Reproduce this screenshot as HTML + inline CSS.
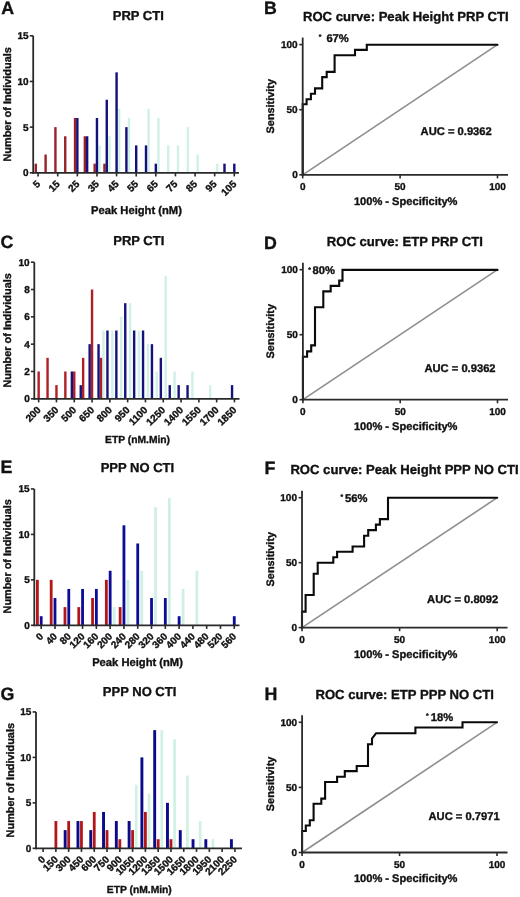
<!DOCTYPE html>
<html><head><meta charset="utf-8"><style>
html,body{margin:0;padding:0;background:#fff;}
body{width:520px;height:897px;overflow:hidden;}
svg{display:block;will-change:transform;}
text{font-family:"Liberation Sans", sans-serif;font-weight:bold;text-rendering:geometricPrecision;stroke:#111;stroke-width:0.35px;}
</style></head><body>
<svg width="520" height="897" viewBox="0 0 520 897">
<rect width="520" height="897" fill="#fff"/>
<rect x="98.36" y="145.40" width="2.40" height="27.40" fill="#d0f1e6"/>
<rect x="108.17" y="136.27" width="2.40" height="36.53" fill="#d0f1e6"/>
<rect x="117.98" y="108.87" width="2.40" height="63.93" fill="#d0f1e6"/>
<rect x="127.79" y="118.00" width="2.40" height="54.80" fill="#d0f1e6"/>
<rect x="147.41" y="108.87" width="2.40" height="63.93" fill="#d0f1e6"/>
<rect x="157.22" y="118.00" width="2.40" height="54.80" fill="#d0f1e6"/>
<rect x="167.03" y="145.40" width="2.40" height="27.40" fill="#d0f1e6"/>
<rect x="176.84" y="145.40" width="2.40" height="27.40" fill="#d0f1e6"/>
<rect x="186.65" y="127.14" width="2.40" height="45.66" fill="#d0f1e6"/>
<rect x="196.46" y="154.53" width="2.40" height="18.27" fill="#d0f1e6"/>
<rect x="216.08" y="163.67" width="2.40" height="9.13" fill="#d0f1e6"/>
<rect x="34.60" y="163.67" width="2.40" height="9.13" fill="#9a2229"/>
<rect x="44.41" y="154.53" width="2.40" height="18.27" fill="#9a2229"/>
<rect x="54.22" y="127.14" width="2.40" height="45.66" fill="#9a2229"/>
<rect x="64.03" y="136.27" width="2.40" height="36.53" fill="#9a2229"/>
<rect x="73.84" y="118.00" width="2.40" height="54.80" fill="#9a2229"/>
<rect x="83.65" y="136.27" width="2.40" height="36.53" fill="#9a2229"/>
<rect x="93.46" y="163.67" width="2.40" height="9.13" fill="#9a2229"/>
<rect x="103.27" y="163.67" width="2.40" height="9.13" fill="#9a2229"/>
<rect x="76.14" y="118.00" width="2.40" height="54.80" fill="#12107a"/>
<rect x="85.95" y="136.27" width="2.40" height="36.53" fill="#12107a"/>
<rect x="95.76" y="118.00" width="2.40" height="54.80" fill="#12107a"/>
<rect x="105.57" y="99.74" width="2.40" height="73.06" fill="#12107a"/>
<rect x="115.38" y="72.34" width="2.40" height="100.46" fill="#12107a"/>
<rect x="125.19" y="127.14" width="2.40" height="45.66" fill="#12107a"/>
<rect x="135.00" y="145.40" width="2.40" height="27.40" fill="#12107a"/>
<rect x="144.81" y="145.40" width="2.40" height="27.40" fill="#12107a"/>
<rect x="154.62" y="163.67" width="2.40" height="9.13" fill="#12107a"/>
<rect x="223.29" y="163.67" width="2.40" height="9.13" fill="#12107a"/>
<rect x="233.10" y="163.67" width="2.40" height="9.13" fill="#12107a"/>
<line x1="33.20" y1="35.81" x2="33.20" y2="173.70" stroke="#2a2a2a" stroke-width="1.8"/>
<line x1="29.80" y1="172.80" x2="33.20" y2="172.80" stroke="#2a2a2a" stroke-width="1.6"/>
<text x="28.60" y="176.20" font-size="10.0" text-anchor="end" fill="#111" >0</text>
<line x1="29.80" y1="127.14" x2="33.20" y2="127.14" stroke="#2a2a2a" stroke-width="1.6"/>
<text x="28.60" y="130.54" font-size="10.0" text-anchor="end" fill="#111" >5</text>
<line x1="29.80" y1="81.47" x2="33.20" y2="81.47" stroke="#2a2a2a" stroke-width="1.6"/>
<text x="28.60" y="84.87" font-size="10.0" text-anchor="end" fill="#111" >10</text>
<line x1="29.80" y1="35.81" x2="33.20" y2="35.81" stroke="#2a2a2a" stroke-width="1.6"/>
<text x="28.60" y="39.21" font-size="10.0" text-anchor="end" fill="#111" >15</text>
<line x1="32.30" y1="172.80" x2="239.00" y2="172.80" stroke="#2a2a2a" stroke-width="1.8"/>
<line x1="38.10" y1="172.80" x2="38.10" y2="176.40" stroke="#2a2a2a" stroke-width="1.6"/>
<text x="40.90" y="184.60" font-size="10.0" text-anchor="end" fill="#111" transform="rotate(-45 40.90 184.60)">5</text>
<line x1="57.72" y1="172.80" x2="57.72" y2="176.40" stroke="#2a2a2a" stroke-width="1.6"/>
<text x="60.52" y="184.60" font-size="10.0" text-anchor="end" fill="#111" transform="rotate(-45 60.52 184.60)">15</text>
<line x1="77.34" y1="172.80" x2="77.34" y2="176.40" stroke="#2a2a2a" stroke-width="1.6"/>
<text x="80.14" y="184.60" font-size="10.0" text-anchor="end" fill="#111" transform="rotate(-45 80.14 184.60)">25</text>
<line x1="96.96" y1="172.80" x2="96.96" y2="176.40" stroke="#2a2a2a" stroke-width="1.6"/>
<text x="99.76" y="184.60" font-size="10.0" text-anchor="end" fill="#111" transform="rotate(-45 99.76 184.60)">35</text>
<line x1="116.58" y1="172.80" x2="116.58" y2="176.40" stroke="#2a2a2a" stroke-width="1.6"/>
<text x="119.38" y="184.60" font-size="10.0" text-anchor="end" fill="#111" transform="rotate(-45 119.38 184.60)">45</text>
<line x1="136.20" y1="172.80" x2="136.20" y2="176.40" stroke="#2a2a2a" stroke-width="1.6"/>
<text x="139.00" y="184.60" font-size="10.0" text-anchor="end" fill="#111" transform="rotate(-45 139.00 184.60)">55</text>
<line x1="155.82" y1="172.80" x2="155.82" y2="176.40" stroke="#2a2a2a" stroke-width="1.6"/>
<text x="158.62" y="184.60" font-size="10.0" text-anchor="end" fill="#111" transform="rotate(-45 158.62 184.60)">65</text>
<line x1="175.44" y1="172.80" x2="175.44" y2="176.40" stroke="#2a2a2a" stroke-width="1.6"/>
<text x="178.24" y="184.60" font-size="10.0" text-anchor="end" fill="#111" transform="rotate(-45 178.24 184.60)">75</text>
<line x1="195.06" y1="172.80" x2="195.06" y2="176.40" stroke="#2a2a2a" stroke-width="1.6"/>
<text x="197.86" y="184.60" font-size="10.0" text-anchor="end" fill="#111" transform="rotate(-45 197.86 184.60)">85</text>
<line x1="214.68" y1="172.80" x2="214.68" y2="176.40" stroke="#2a2a2a" stroke-width="1.6"/>
<text x="217.48" y="184.60" font-size="10.0" text-anchor="end" fill="#111" transform="rotate(-45 217.48 184.60)">95</text>
<line x1="234.30" y1="172.80" x2="234.30" y2="176.40" stroke="#2a2a2a" stroke-width="1.6"/>
<text x="237.10" y="184.60" font-size="10.0" text-anchor="end" fill="#111" transform="rotate(-45 237.10 184.60)">105</text>
<text x="138.30" y="19.50" font-size="13" text-anchor="middle" fill="#111" >PRP CTI</text>
<text x="1.30" y="13.60" font-size="17.8" text-anchor="start" fill="#111" >A</text>
<text x="10.80" y="104.40" font-size="10.9" text-anchor="middle" fill="#111" transform="rotate(-90 10.80 104.40)">Number of Individuals</text>
<text x="136.50" y="213.50" font-size="11.2" text-anchor="middle" fill="#111" >Peak Height (nM)</text>
<rect x="102.20" y="330.50" width="2.40" height="68.30" fill="#d0f0e8"/>
<rect x="111.10" y="330.50" width="2.40" height="68.30" fill="#d0f0e8"/>
<rect x="120.00" y="316.84" width="2.40" height="81.96" fill="#d0f0e8"/>
<rect x="128.90" y="303.18" width="2.40" height="95.62" fill="#d0f0e8"/>
<rect x="137.80" y="330.50" width="2.40" height="68.30" fill="#d0f0e8"/>
<rect x="146.70" y="344.16" width="2.40" height="54.64" fill="#d0f0e8"/>
<rect x="155.60" y="371.48" width="2.40" height="27.32" fill="#d0f0e8"/>
<rect x="164.50" y="275.86" width="2.40" height="122.94" fill="#d0f0e8"/>
<rect x="173.40" y="371.48" width="2.40" height="27.32" fill="#d0f0e8"/>
<rect x="191.20" y="371.48" width="2.40" height="27.32" fill="#d0f0e8"/>
<rect x="209.00" y="385.14" width="2.40" height="13.66" fill="#d0f0e8"/>
<rect x="37.45" y="371.48" width="2.40" height="27.32" fill="#ae2026"/>
<rect x="46.35" y="357.82" width="2.40" height="40.98" fill="#ae2026"/>
<rect x="55.25" y="385.14" width="2.40" height="13.66" fill="#ae2026"/>
<rect x="64.15" y="371.48" width="2.40" height="27.32" fill="#ae2026"/>
<rect x="73.05" y="371.48" width="2.40" height="27.32" fill="#ae2026"/>
<rect x="81.95" y="357.82" width="2.40" height="40.98" fill="#ae2026"/>
<rect x="90.85" y="289.52" width="2.40" height="109.28" fill="#ae2026"/>
<rect x="99.75" y="357.82" width="2.40" height="40.98" fill="#ae2026"/>
<rect x="70.65" y="371.48" width="2.40" height="27.32" fill="#16127c"/>
<rect x="79.55" y="385.14" width="2.40" height="13.66" fill="#16127c"/>
<rect x="88.45" y="344.16" width="2.40" height="54.64" fill="#16127c"/>
<rect x="97.35" y="344.16" width="2.40" height="54.64" fill="#16127c"/>
<rect x="106.25" y="330.50" width="2.40" height="68.30" fill="#16127c"/>
<rect x="115.15" y="330.50" width="2.40" height="68.30" fill="#16127c"/>
<rect x="124.05" y="303.18" width="2.40" height="95.62" fill="#16127c"/>
<rect x="132.95" y="330.50" width="2.40" height="68.30" fill="#16127c"/>
<rect x="141.85" y="330.50" width="2.40" height="68.30" fill="#16127c"/>
<rect x="150.75" y="344.16" width="2.40" height="54.64" fill="#16127c"/>
<rect x="159.65" y="357.82" width="2.40" height="40.98" fill="#16127c"/>
<rect x="168.55" y="385.14" width="2.40" height="13.66" fill="#16127c"/>
<rect x="177.45" y="385.14" width="2.40" height="13.66" fill="#16127c"/>
<rect x="186.35" y="385.14" width="2.40" height="13.66" fill="#16127c"/>
<rect x="230.85" y="385.14" width="2.40" height="13.66" fill="#16127c"/>
<line x1="34.30" y1="262.20" x2="34.30" y2="399.70" stroke="#2a2a2a" stroke-width="1.8"/>
<line x1="30.90" y1="398.80" x2="34.30" y2="398.80" stroke="#2a2a2a" stroke-width="1.6"/>
<text x="29.70" y="402.20" font-size="10.0" text-anchor="end" fill="#111" >0</text>
<line x1="30.90" y1="371.48" x2="34.30" y2="371.48" stroke="#2a2a2a" stroke-width="1.6"/>
<text x="29.70" y="374.88" font-size="10.0" text-anchor="end" fill="#111" >2</text>
<line x1="30.90" y1="344.16" x2="34.30" y2="344.16" stroke="#2a2a2a" stroke-width="1.6"/>
<text x="29.70" y="347.56" font-size="10.0" text-anchor="end" fill="#111" >4</text>
<line x1="30.90" y1="316.84" x2="34.30" y2="316.84" stroke="#2a2a2a" stroke-width="1.6"/>
<text x="29.70" y="320.24" font-size="10.0" text-anchor="end" fill="#111" >6</text>
<line x1="30.90" y1="289.52" x2="34.30" y2="289.52" stroke="#2a2a2a" stroke-width="1.6"/>
<text x="29.70" y="292.92" font-size="10.0" text-anchor="end" fill="#111" >8</text>
<line x1="30.90" y1="262.20" x2="34.30" y2="262.20" stroke="#2a2a2a" stroke-width="1.6"/>
<text x="29.70" y="265.60" font-size="10.0" text-anchor="end" fill="#111" >10</text>
<line x1="33.40" y1="398.80" x2="239.50" y2="398.80" stroke="#2a2a2a" stroke-width="1.8"/>
<line x1="38.65" y1="398.80" x2="38.65" y2="402.40" stroke="#2a2a2a" stroke-width="1.6"/>
<text x="41.45" y="410.60" font-size="10.0" text-anchor="end" fill="#111" transform="rotate(-45 41.45 410.60)">200</text>
<line x1="56.45" y1="398.80" x2="56.45" y2="402.40" stroke="#2a2a2a" stroke-width="1.6"/>
<text x="59.25" y="410.60" font-size="10.0" text-anchor="end" fill="#111" transform="rotate(-45 59.25 410.60)">350</text>
<line x1="74.25" y1="398.80" x2="74.25" y2="402.40" stroke="#2a2a2a" stroke-width="1.6"/>
<text x="77.05" y="410.60" font-size="10.0" text-anchor="end" fill="#111" transform="rotate(-45 77.05 410.60)">500</text>
<line x1="92.05" y1="398.80" x2="92.05" y2="402.40" stroke="#2a2a2a" stroke-width="1.6"/>
<text x="94.85" y="410.60" font-size="10.0" text-anchor="end" fill="#111" transform="rotate(-45 94.85 410.60)">650</text>
<line x1="109.85" y1="398.80" x2="109.85" y2="402.40" stroke="#2a2a2a" stroke-width="1.6"/>
<text x="112.65" y="410.60" font-size="10.0" text-anchor="end" fill="#111" transform="rotate(-45 112.65 410.60)">800</text>
<line x1="127.65" y1="398.80" x2="127.65" y2="402.40" stroke="#2a2a2a" stroke-width="1.6"/>
<text x="130.45" y="410.60" font-size="10.0" text-anchor="end" fill="#111" transform="rotate(-45 130.45 410.60)">950</text>
<line x1="145.45" y1="398.80" x2="145.45" y2="402.40" stroke="#2a2a2a" stroke-width="1.6"/>
<text x="148.25" y="410.60" font-size="10.0" text-anchor="end" fill="#111" transform="rotate(-45 148.25 410.60)">1100</text>
<line x1="163.25" y1="398.80" x2="163.25" y2="402.40" stroke="#2a2a2a" stroke-width="1.6"/>
<text x="166.05" y="410.60" font-size="10.0" text-anchor="end" fill="#111" transform="rotate(-45 166.05 410.60)">1250</text>
<line x1="181.05" y1="398.80" x2="181.05" y2="402.40" stroke="#2a2a2a" stroke-width="1.6"/>
<text x="183.85" y="410.60" font-size="10.0" text-anchor="end" fill="#111" transform="rotate(-45 183.85 410.60)">1400</text>
<line x1="198.85" y1="398.80" x2="198.85" y2="402.40" stroke="#2a2a2a" stroke-width="1.6"/>
<text x="201.65" y="410.60" font-size="10.0" text-anchor="end" fill="#111" transform="rotate(-45 201.65 410.60)">1550</text>
<line x1="216.65" y1="398.80" x2="216.65" y2="402.40" stroke="#2a2a2a" stroke-width="1.6"/>
<text x="219.45" y="410.60" font-size="10.0" text-anchor="end" fill="#111" transform="rotate(-45 219.45 410.60)">1700</text>
<line x1="234.45" y1="398.80" x2="234.45" y2="402.40" stroke="#2a2a2a" stroke-width="1.6"/>
<text x="237.25" y="410.60" font-size="10.0" text-anchor="end" fill="#111" transform="rotate(-45 237.25 410.60)">1850</text>
<text x="138.80" y="245.20" font-size="13" text-anchor="middle" fill="#111" >PRP CTI</text>
<text x="0.60" y="247.90" font-size="17.8" text-anchor="start" fill="#111" >C</text>
<text x="11.50" y="330.40" font-size="10.9" text-anchor="middle" fill="#111" transform="rotate(-90 11.50 330.40)">Number of Individuals</text>
<text x="137.55" y="443.10" font-size="10.3" text-anchor="middle" fill="#111" >ETP (nM.Min)</text>
<rect x="112.75" y="607.12" width="2.80" height="18.18" fill="#d0f0e4"/>
<rect x="126.54" y="579.85" width="2.80" height="45.45" fill="#d0f0e4"/>
<rect x="140.33" y="570.76" width="2.80" height="54.54" fill="#d0f0e4"/>
<rect x="154.12" y="507.13" width="2.80" height="118.17" fill="#d0f0e4"/>
<rect x="167.91" y="498.04" width="2.80" height="127.26" fill="#d0f0e4"/>
<rect x="181.70" y="588.94" width="2.80" height="36.36" fill="#d0f0e4"/>
<rect x="195.49" y="570.76" width="2.80" height="54.54" fill="#d0f0e4"/>
<rect x="36.00" y="579.85" width="2.80" height="45.45" fill="#b31616"/>
<rect x="49.79" y="579.85" width="2.80" height="45.45" fill="#b31616"/>
<rect x="63.58" y="607.12" width="2.80" height="18.18" fill="#b31616"/>
<rect x="77.37" y="607.12" width="2.80" height="18.18" fill="#b31616"/>
<rect x="91.16" y="598.03" width="2.80" height="27.27" fill="#b31616"/>
<rect x="104.95" y="579.85" width="2.80" height="45.45" fill="#b31616"/>
<rect x="118.74" y="607.12" width="2.80" height="18.18" fill="#b31616"/>
<rect x="39.80" y="616.21" width="2.80" height="9.09" fill="#0c0c98"/>
<rect x="53.59" y="598.03" width="2.80" height="27.27" fill="#0c0c98"/>
<rect x="67.38" y="588.94" width="2.80" height="36.36" fill="#0c0c98"/>
<rect x="81.17" y="588.94" width="2.80" height="36.36" fill="#0c0c98"/>
<rect x="94.96" y="588.94" width="2.80" height="36.36" fill="#0c0c98"/>
<rect x="108.75" y="570.76" width="2.80" height="54.54" fill="#0c0c98"/>
<rect x="122.54" y="525.31" width="2.80" height="99.99" fill="#0c0c98"/>
<rect x="136.33" y="543.49" width="2.80" height="81.81" fill="#0c0c98"/>
<rect x="150.12" y="598.03" width="2.80" height="27.27" fill="#0c0c98"/>
<rect x="163.91" y="598.03" width="2.80" height="27.27" fill="#0c0c98"/>
<rect x="177.70" y="616.21" width="2.80" height="9.09" fill="#0c0c98"/>
<rect x="232.86" y="616.21" width="2.80" height="9.09" fill="#0c0c98"/>
<line x1="34.30" y1="488.95" x2="34.30" y2="626.20" stroke="#2a2a2a" stroke-width="1.8"/>
<line x1="30.90" y1="625.30" x2="34.30" y2="625.30" stroke="#2a2a2a" stroke-width="1.6"/>
<text x="29.70" y="628.70" font-size="10.0" text-anchor="end" fill="#111" >0</text>
<line x1="30.90" y1="579.85" x2="34.30" y2="579.85" stroke="#2a2a2a" stroke-width="1.6"/>
<text x="29.70" y="583.25" font-size="10.0" text-anchor="end" fill="#111" >5</text>
<line x1="30.90" y1="534.40" x2="34.30" y2="534.40" stroke="#2a2a2a" stroke-width="1.6"/>
<text x="29.70" y="537.80" font-size="10.0" text-anchor="end" fill="#111" >10</text>
<line x1="30.90" y1="488.95" x2="34.30" y2="488.95" stroke="#2a2a2a" stroke-width="1.6"/>
<text x="29.70" y="492.35" font-size="10.0" text-anchor="end" fill="#111" >15</text>
<line x1="33.40" y1="625.30" x2="239.50" y2="625.30" stroke="#2a2a2a" stroke-width="1.8"/>
<line x1="41.20" y1="625.30" x2="41.20" y2="628.90" stroke="#2a2a2a" stroke-width="1.6"/>
<text x="44.00" y="637.10" font-size="10.0" text-anchor="end" fill="#111" transform="rotate(-45 44.00 637.10)">0</text>
<line x1="54.99" y1="625.30" x2="54.99" y2="628.90" stroke="#2a2a2a" stroke-width="1.6"/>
<text x="57.79" y="637.10" font-size="10.0" text-anchor="end" fill="#111" transform="rotate(-45 57.79 637.10)">40</text>
<line x1="68.78" y1="625.30" x2="68.78" y2="628.90" stroke="#2a2a2a" stroke-width="1.6"/>
<text x="71.58" y="637.10" font-size="10.0" text-anchor="end" fill="#111" transform="rotate(-45 71.58 637.10)">80</text>
<line x1="82.57" y1="625.30" x2="82.57" y2="628.90" stroke="#2a2a2a" stroke-width="1.6"/>
<text x="85.37" y="637.10" font-size="10.0" text-anchor="end" fill="#111" transform="rotate(-45 85.37 637.10)">120</text>
<line x1="96.36" y1="625.30" x2="96.36" y2="628.90" stroke="#2a2a2a" stroke-width="1.6"/>
<text x="99.16" y="637.10" font-size="10.0" text-anchor="end" fill="#111" transform="rotate(-45 99.16 637.10)">160</text>
<line x1="110.15" y1="625.30" x2="110.15" y2="628.90" stroke="#2a2a2a" stroke-width="1.6"/>
<text x="112.95" y="637.10" font-size="10.0" text-anchor="end" fill="#111" transform="rotate(-45 112.95 637.10)">200</text>
<line x1="123.94" y1="625.30" x2="123.94" y2="628.90" stroke="#2a2a2a" stroke-width="1.6"/>
<text x="126.74" y="637.10" font-size="10.0" text-anchor="end" fill="#111" transform="rotate(-45 126.74 637.10)">240</text>
<line x1="137.73" y1="625.30" x2="137.73" y2="628.90" stroke="#2a2a2a" stroke-width="1.6"/>
<text x="140.53" y="637.10" font-size="10.0" text-anchor="end" fill="#111" transform="rotate(-45 140.53 637.10)">280</text>
<line x1="151.52" y1="625.30" x2="151.52" y2="628.90" stroke="#2a2a2a" stroke-width="1.6"/>
<text x="154.32" y="637.10" font-size="10.0" text-anchor="end" fill="#111" transform="rotate(-45 154.32 637.10)">320</text>
<line x1="165.31" y1="625.30" x2="165.31" y2="628.90" stroke="#2a2a2a" stroke-width="1.6"/>
<text x="168.11" y="637.10" font-size="10.0" text-anchor="end" fill="#111" transform="rotate(-45 168.11 637.10)">360</text>
<line x1="179.10" y1="625.30" x2="179.10" y2="628.90" stroke="#2a2a2a" stroke-width="1.6"/>
<text x="181.90" y="637.10" font-size="10.0" text-anchor="end" fill="#111" transform="rotate(-45 181.90 637.10)">400</text>
<line x1="192.89" y1="625.30" x2="192.89" y2="628.90" stroke="#2a2a2a" stroke-width="1.6"/>
<text x="195.69" y="637.10" font-size="10.0" text-anchor="end" fill="#111" transform="rotate(-45 195.69 637.10)">440</text>
<line x1="206.68" y1="625.30" x2="206.68" y2="628.90" stroke="#2a2a2a" stroke-width="1.6"/>
<text x="209.48" y="637.10" font-size="10.0" text-anchor="end" fill="#111" transform="rotate(-45 209.48 637.10)">480</text>
<line x1="220.47" y1="625.30" x2="220.47" y2="628.90" stroke="#2a2a2a" stroke-width="1.6"/>
<text x="223.27" y="637.10" font-size="10.0" text-anchor="end" fill="#111" transform="rotate(-45 223.27 637.10)">520</text>
<line x1="234.26" y1="625.30" x2="234.26" y2="628.90" stroke="#2a2a2a" stroke-width="1.6"/>
<text x="237.06" y="637.10" font-size="10.0" text-anchor="end" fill="#111" transform="rotate(-45 237.06 637.10)">560</text>
<text x="137.40" y="472.30" font-size="13" text-anchor="middle" fill="#111" >PPP NO CTI</text>
<text x="0.40" y="473.30" font-size="17.8" text-anchor="start" fill="#111" >E</text>
<text x="11.50" y="556.30" font-size="10.9" text-anchor="middle" fill="#111" transform="rotate(-90 11.50 556.30)">Number of Individuals</text>
<text x="137.55" y="665.80" font-size="11.2" text-anchor="middle" fill="#111" >Peak Height (nM)</text>
<rect x="134.86" y="784.67" width="2.70" height="63.63" fill="#d0f1e4"/>
<rect x="147.65" y="793.76" width="2.70" height="54.54" fill="#d0f1e4"/>
<rect x="160.43" y="730.13" width="2.70" height="118.17" fill="#d0f1e4"/>
<rect x="173.22" y="739.22" width="2.70" height="109.08" fill="#d0f1e4"/>
<rect x="186.01" y="775.58" width="2.70" height="72.72" fill="#d0f1e4"/>
<rect x="198.79" y="821.03" width="2.70" height="27.27" fill="#d0f1e4"/>
<rect x="211.58" y="839.21" width="2.70" height="9.09" fill="#d0f1e4"/>
<rect x="54.49" y="821.03" width="2.80" height="27.27" fill="#b31618"/>
<rect x="67.27" y="821.03" width="2.80" height="27.27" fill="#b31618"/>
<rect x="80.06" y="821.03" width="2.80" height="27.27" fill="#b31618"/>
<rect x="92.85" y="811.94" width="2.80" height="36.36" fill="#b31618"/>
<rect x="105.63" y="830.12" width="2.80" height="18.18" fill="#b31618"/>
<rect x="118.42" y="839.21" width="2.80" height="9.09" fill="#b31618"/>
<rect x="131.21" y="830.12" width="2.80" height="18.18" fill="#b31618"/>
<rect x="144.00" y="811.94" width="2.80" height="36.36" fill="#b31618"/>
<rect x="156.78" y="839.21" width="2.80" height="9.09" fill="#b31618"/>
<rect x="169.57" y="839.21" width="2.80" height="9.09" fill="#b31618"/>
<rect x="63.72" y="830.12" width="2.90" height="18.18" fill="#0a0a8a"/>
<rect x="76.51" y="821.03" width="2.90" height="27.27" fill="#0a0a8a"/>
<rect x="89.30" y="830.12" width="2.90" height="18.18" fill="#0a0a8a"/>
<rect x="102.08" y="811.94" width="2.90" height="36.36" fill="#0a0a8a"/>
<rect x="114.87" y="821.03" width="2.90" height="27.27" fill="#0a0a8a"/>
<rect x="127.66" y="821.03" width="2.90" height="27.27" fill="#0a0a8a"/>
<rect x="140.45" y="757.40" width="2.90" height="90.90" fill="#0a0a8a"/>
<rect x="153.23" y="730.13" width="2.90" height="118.17" fill="#0a0a8a"/>
<rect x="166.02" y="802.85" width="2.90" height="45.45" fill="#0a0a8a"/>
<rect x="178.81" y="830.12" width="2.90" height="18.18" fill="#0a0a8a"/>
<rect x="191.59" y="839.21" width="2.90" height="9.09" fill="#0a0a8a"/>
<rect x="204.38" y="839.21" width="2.90" height="9.09" fill="#0a0a8a"/>
<rect x="229.96" y="839.21" width="2.90" height="9.09" fill="#0a0a8a"/>
<line x1="36.00" y1="711.95" x2="36.00" y2="849.20" stroke="#2a2a2a" stroke-width="1.8"/>
<line x1="32.60" y1="848.30" x2="36.00" y2="848.30" stroke="#2a2a2a" stroke-width="1.6"/>
<text x="31.40" y="851.70" font-size="10.0" text-anchor="end" fill="#111" >0</text>
<line x1="32.60" y1="802.85" x2="36.00" y2="802.85" stroke="#2a2a2a" stroke-width="1.6"/>
<text x="31.40" y="806.25" font-size="10.0" text-anchor="end" fill="#111" >5</text>
<line x1="32.60" y1="757.40" x2="36.00" y2="757.40" stroke="#2a2a2a" stroke-width="1.6"/>
<text x="31.40" y="760.80" font-size="10.0" text-anchor="end" fill="#111" >10</text>
<line x1="32.60" y1="711.95" x2="36.00" y2="711.95" stroke="#2a2a2a" stroke-width="1.6"/>
<text x="31.40" y="715.35" font-size="10.0" text-anchor="end" fill="#111" >15</text>
<line x1="35.10" y1="848.30" x2="242.00" y2="848.30" stroke="#2a2a2a" stroke-width="1.8"/>
<line x1="43.10" y1="848.30" x2="43.10" y2="851.90" stroke="#2a2a2a" stroke-width="1.6"/>
<text x="45.90" y="860.10" font-size="10.0" text-anchor="end" fill="#111" transform="rotate(-45 45.90 860.10)">0</text>
<line x1="55.89" y1="848.30" x2="55.89" y2="851.90" stroke="#2a2a2a" stroke-width="1.6"/>
<text x="58.69" y="860.10" font-size="10.0" text-anchor="end" fill="#111" transform="rotate(-45 58.69 860.10)">150</text>
<line x1="68.67" y1="848.30" x2="68.67" y2="851.90" stroke="#2a2a2a" stroke-width="1.6"/>
<text x="71.47" y="860.10" font-size="10.0" text-anchor="end" fill="#111" transform="rotate(-45 71.47 860.10)">300</text>
<line x1="81.46" y1="848.30" x2="81.46" y2="851.90" stroke="#2a2a2a" stroke-width="1.6"/>
<text x="84.26" y="860.10" font-size="10.0" text-anchor="end" fill="#111" transform="rotate(-45 84.26 860.10)">450</text>
<line x1="94.25" y1="848.30" x2="94.25" y2="851.90" stroke="#2a2a2a" stroke-width="1.6"/>
<text x="97.05" y="860.10" font-size="10.0" text-anchor="end" fill="#111" transform="rotate(-45 97.05 860.10)">600</text>
<line x1="107.03" y1="848.30" x2="107.03" y2="851.90" stroke="#2a2a2a" stroke-width="1.6"/>
<text x="109.83" y="860.10" font-size="10.0" text-anchor="end" fill="#111" transform="rotate(-45 109.83 860.10)">750</text>
<line x1="119.82" y1="848.30" x2="119.82" y2="851.90" stroke="#2a2a2a" stroke-width="1.6"/>
<text x="122.62" y="860.10" font-size="10.0" text-anchor="end" fill="#111" transform="rotate(-45 122.62 860.10)">900</text>
<line x1="132.61" y1="848.30" x2="132.61" y2="851.90" stroke="#2a2a2a" stroke-width="1.6"/>
<text x="135.41" y="860.10" font-size="10.0" text-anchor="end" fill="#111" transform="rotate(-45 135.41 860.10)">1050</text>
<line x1="145.40" y1="848.30" x2="145.40" y2="851.90" stroke="#2a2a2a" stroke-width="1.6"/>
<text x="148.20" y="860.10" font-size="10.0" text-anchor="end" fill="#111" transform="rotate(-45 148.20 860.10)">1200</text>
<line x1="158.18" y1="848.30" x2="158.18" y2="851.90" stroke="#2a2a2a" stroke-width="1.6"/>
<text x="160.98" y="860.10" font-size="10.0" text-anchor="end" fill="#111" transform="rotate(-45 160.98 860.10)">1350</text>
<line x1="170.97" y1="848.30" x2="170.97" y2="851.90" stroke="#2a2a2a" stroke-width="1.6"/>
<text x="173.77" y="860.10" font-size="10.0" text-anchor="end" fill="#111" transform="rotate(-45 173.77 860.10)">1500</text>
<line x1="183.76" y1="848.30" x2="183.76" y2="851.90" stroke="#2a2a2a" stroke-width="1.6"/>
<text x="186.56" y="860.10" font-size="10.0" text-anchor="end" fill="#111" transform="rotate(-45 186.56 860.10)">1650</text>
<line x1="196.54" y1="848.30" x2="196.54" y2="851.90" stroke="#2a2a2a" stroke-width="1.6"/>
<text x="199.34" y="860.10" font-size="10.0" text-anchor="end" fill="#111" transform="rotate(-45 199.34 860.10)">1800</text>
<line x1="209.33" y1="848.30" x2="209.33" y2="851.90" stroke="#2a2a2a" stroke-width="1.6"/>
<text x="212.13" y="860.10" font-size="10.0" text-anchor="end" fill="#111" transform="rotate(-45 212.13 860.10)">1950</text>
<line x1="222.12" y1="848.30" x2="222.12" y2="851.90" stroke="#2a2a2a" stroke-width="1.6"/>
<text x="224.92" y="860.10" font-size="10.0" text-anchor="end" fill="#111" transform="rotate(-45 224.92 860.10)">2100</text>
<line x1="234.91" y1="848.30" x2="234.91" y2="851.90" stroke="#2a2a2a" stroke-width="1.6"/>
<text x="237.71" y="860.10" font-size="10.0" text-anchor="end" fill="#111" transform="rotate(-45 237.71 860.10)">2250</text>
<text x="139.60" y="695.80" font-size="13" text-anchor="middle" fill="#111" >PPP NO CTI</text>
<text x="0.60" y="699.70" font-size="17.8" text-anchor="start" fill="#111" >G</text>
<text x="13.80" y="780.20" font-size="10.9" text-anchor="middle" fill="#111" transform="rotate(-90 13.80 780.20)">Number of Individuals</text>
<text x="139.30" y="892.70" font-size="10.3" text-anchor="middle" fill="#111" >ETP (nM.Min)</text>
<line x1="302.70" y1="174.80" x2="497.50" y2="44.60" stroke="#8e8e8e" stroke-width="1.6"/>
<path d="M302.70,174.80 L302.70,104.20 L306.60,104.20 L306.60,99.30 L310.90,99.30 L310.90,93.70 L315.00,93.70 L315.00,88.40 L322.20,88.40 L322.20,77.10 L326.70,77.10 L326.70,71.90 L334.60,71.90 L334.60,55.20 L355.00,55.20 L355.00,49.90 L366.80,49.90 L366.80,44.80 L497.50,44.80" fill="none" stroke="#0a0a0a" stroke-width="2.1" stroke-linejoin="miter" stroke-linecap="round"/>
<line x1="302.70" y1="37.60" x2="302.70" y2="175.70" stroke="#2a2a2a" stroke-width="1.8"/>
<line x1="299.30" y1="174.80" x2="302.70" y2="174.80" stroke="#2a2a2a" stroke-width="1.6"/>
<text x="297.70" y="178.20" font-size="10.0" text-anchor="end" fill="#111" >0</text>
<line x1="299.30" y1="109.70" x2="302.70" y2="109.70" stroke="#2a2a2a" stroke-width="1.6"/>
<text x="297.70" y="113.10" font-size="10.0" text-anchor="end" fill="#111" >50</text>
<line x1="299.30" y1="44.60" x2="302.70" y2="44.60" stroke="#2a2a2a" stroke-width="1.6"/>
<text x="297.70" y="48.00" font-size="10.0" text-anchor="end" fill="#111" >100</text>
<line x1="301.80" y1="174.80" x2="508.00" y2="174.80" stroke="#2a2a2a" stroke-width="1.8"/>
<line x1="302.70" y1="174.80" x2="302.70" y2="178.40" stroke="#2a2a2a" stroke-width="1.6"/>
<text x="302.70" y="190.40" font-size="10.0" text-anchor="middle" fill="#111" >0</text>
<line x1="400.10" y1="174.80" x2="400.10" y2="178.40" stroke="#2a2a2a" stroke-width="1.6"/>
<text x="400.10" y="190.40" font-size="10.0" text-anchor="middle" fill="#111" >50</text>
<line x1="497.50" y1="174.80" x2="497.50" y2="178.40" stroke="#2a2a2a" stroke-width="1.6"/>
<text x="497.50" y="190.40" font-size="10.0" text-anchor="middle" fill="#111" >100</text>
<text x="405.80" y="21.40" font-size="13.1" text-anchor="middle" fill="#111" >ROC curve: Peak Height PRP CTI</text>
<text x="264.00" y="13.60" font-size="17.8" text-anchor="start" fill="#111" >B</text>
<text x="273.90" y="106.20" font-size="10.9" text-anchor="middle" fill="#111" transform="rotate(-90 273.90 106.20)">Sensitivity</text>
<text x="405.70" y="204.70" font-size="11.1" text-anchor="middle" fill="#111" >100% - Specificity%</text>
<text x="456.20" y="134.60" font-size="11.2" text-anchor="middle" fill="#111" >AUC = 0.9362</text>
<text x="320.10" y="39.40" font-size="6.8" text-anchor="middle" fill="#111" >*</text>
<text x="326.40" y="42.00" font-size="11.2" text-anchor="start" fill="#111" >67%</text>
<line x1="302.90" y1="399.70" x2="497.50" y2="269.70" stroke="#8e8e8e" stroke-width="1.6"/>
<path d="M302.90,399.70 L302.90,356.80 L307.10,356.80 L307.10,351.40 L311.20,351.40 L311.20,345.40 L315.00,345.40 L315.00,307.20 L323.30,307.20 L323.30,291.40 L330.70,291.40 L330.70,285.90 L339.20,285.90 L339.20,280.60 L342.50,280.60 L342.50,269.90 L497.50,269.90" fill="none" stroke="#0a0a0a" stroke-width="2.1" stroke-linejoin="miter" stroke-linecap="round"/>
<line x1="302.90" y1="262.70" x2="302.90" y2="400.60" stroke="#2a2a2a" stroke-width="1.8"/>
<line x1="299.50" y1="399.70" x2="302.90" y2="399.70" stroke="#2a2a2a" stroke-width="1.6"/>
<text x="297.90" y="403.10" font-size="10.0" text-anchor="end" fill="#111" >0</text>
<line x1="299.50" y1="334.70" x2="302.90" y2="334.70" stroke="#2a2a2a" stroke-width="1.6"/>
<text x="297.90" y="338.10" font-size="10.0" text-anchor="end" fill="#111" >50</text>
<line x1="299.50" y1="269.70" x2="302.90" y2="269.70" stroke="#2a2a2a" stroke-width="1.6"/>
<text x="297.90" y="273.10" font-size="10.0" text-anchor="end" fill="#111" >100</text>
<line x1="302.00" y1="399.70" x2="508.00" y2="399.70" stroke="#2a2a2a" stroke-width="1.8"/>
<line x1="302.90" y1="399.70" x2="302.90" y2="403.30" stroke="#2a2a2a" stroke-width="1.6"/>
<text x="302.90" y="415.30" font-size="10.0" text-anchor="middle" fill="#111" >0</text>
<line x1="400.20" y1="399.70" x2="400.20" y2="403.30" stroke="#2a2a2a" stroke-width="1.6"/>
<text x="400.20" y="415.30" font-size="10.0" text-anchor="middle" fill="#111" >50</text>
<line x1="497.50" y1="399.70" x2="497.50" y2="403.30" stroke="#2a2a2a" stroke-width="1.6"/>
<text x="497.50" y="415.30" font-size="10.0" text-anchor="middle" fill="#111" >100</text>
<text x="404.80" y="246.30" font-size="13.1" text-anchor="middle" fill="#111" >ROC curve: ETP PRP CTI</text>
<text x="264.00" y="248.80" font-size="17.8" text-anchor="start" fill="#111" >D</text>
<text x="273.90" y="331.20" font-size="10.9" text-anchor="middle" fill="#111" transform="rotate(-90 273.90 331.20)">Sensitivity</text>
<text x="405.70" y="429.60" font-size="11.1" text-anchor="middle" fill="#111" >100% - Specificity%</text>
<text x="460.00" y="372.30" font-size="11.2" text-anchor="middle" fill="#111" >AUC = 0.9362</text>
<text x="309.60" y="271.60" font-size="6.8" text-anchor="middle" fill="#111" >*</text>
<text x="312.60" y="274.30" font-size="11.2" text-anchor="start" fill="#111" >80%</text>
<line x1="302.00" y1="627.60" x2="497.20" y2="497.70" stroke="#8e8e8e" stroke-width="1.6"/>
<path d="M302.00,627.60 L302.00,611.60 L305.60,611.60 L305.60,595.00 L313.70,595.00 L313.70,573.70 L317.70,573.70 L317.70,562.70 L333.30,562.70 L333.30,557.30 L337.10,557.30 L337.10,551.70 L352.60,551.70 L352.60,546.50 L364.10,546.50 L364.10,535.80 L368.20,535.80 L368.20,530.10 L375.90,530.10 L375.90,524.60 L379.90,524.60 L379.90,519.10 L388.00,519.10 L388.00,497.70 L497.20,497.70" fill="none" stroke="#0a0a0a" stroke-width="2.1" stroke-linejoin="miter" stroke-linecap="round"/>
<line x1="302.00" y1="490.70" x2="302.00" y2="628.50" stroke="#2a2a2a" stroke-width="1.8"/>
<line x1="298.60" y1="627.60" x2="302.00" y2="627.60" stroke="#2a2a2a" stroke-width="1.6"/>
<text x="297.00" y="631.00" font-size="10.0" text-anchor="end" fill="#111" >0</text>
<line x1="298.60" y1="562.65" x2="302.00" y2="562.65" stroke="#2a2a2a" stroke-width="1.6"/>
<text x="297.00" y="566.05" font-size="10.0" text-anchor="end" fill="#111" >50</text>
<line x1="298.60" y1="497.70" x2="302.00" y2="497.70" stroke="#2a2a2a" stroke-width="1.6"/>
<text x="297.00" y="501.10" font-size="10.0" text-anchor="end" fill="#111" >100</text>
<line x1="301.10" y1="627.60" x2="507.50" y2="627.60" stroke="#2a2a2a" stroke-width="1.8"/>
<line x1="302.00" y1="627.60" x2="302.00" y2="631.20" stroke="#2a2a2a" stroke-width="1.6"/>
<text x="302.00" y="643.20" font-size="10.0" text-anchor="middle" fill="#111" >0</text>
<line x1="399.60" y1="627.60" x2="399.60" y2="631.20" stroke="#2a2a2a" stroke-width="1.6"/>
<text x="399.60" y="643.20" font-size="10.0" text-anchor="middle" fill="#111" >50</text>
<line x1="497.20" y1="627.60" x2="497.20" y2="631.20" stroke="#2a2a2a" stroke-width="1.6"/>
<text x="497.20" y="643.20" font-size="10.0" text-anchor="middle" fill="#111" >100</text>
<text x="404.50" y="474.30" font-size="13.1" text-anchor="middle" fill="#111" >ROC curve: Peak Height PPP NO CTI</text>
<text x="264.50" y="474.30" font-size="17.8" text-anchor="start" fill="#111" >F</text>
<text x="273.90" y="559.15" font-size="10.9" text-anchor="middle" fill="#111" transform="rotate(-90 273.90 559.15)">Sensitivity</text>
<text x="405.70" y="657.50" font-size="11.1" text-anchor="middle" fill="#111" >100% - Specificity%</text>
<text x="462.70" y="602.70" font-size="11.2" text-anchor="middle" fill="#111" >AUC = 0.8092</text>
<text x="341.90" y="499.20" font-size="6.8" text-anchor="middle" fill="#111" >*</text>
<text x="345.00" y="502.00" font-size="11.2" text-anchor="start" fill="#111" >56%</text>
<line x1="302.10" y1="852.50" x2="497.00" y2="722.30" stroke="#8e8e8e" stroke-width="1.6"/>
<path d="M302.10,852.50 L302.10,831.00 L305.80,831.00 L305.80,825.50 L309.80,825.50 L309.80,820.30 L313.60,820.30 L313.60,803.80 L321.30,803.80 L321.30,798.60 L325.10,798.60 L325.10,782.00 L337.10,782.00 L337.10,776.70 L344.80,776.70 L344.80,771.10 L356.70,771.10 L356.70,766.00 L368.00,766.00 L368.00,744.20 L372.00,744.20 L372.00,738.60 L376.10,733.20 L415.40,733.20 L415.40,727.50 L462.50,727.50 L462.50,722.30 L497.00,722.30" fill="none" stroke="#0a0a0a" stroke-width="2.1" stroke-linejoin="miter" stroke-linecap="round"/>
<line x1="302.10" y1="715.30" x2="302.10" y2="853.40" stroke="#2a2a2a" stroke-width="1.8"/>
<line x1="298.70" y1="852.50" x2="302.10" y2="852.50" stroke="#2a2a2a" stroke-width="1.6"/>
<text x="297.10" y="855.90" font-size="10.0" text-anchor="end" fill="#111" >0</text>
<line x1="298.70" y1="787.40" x2="302.10" y2="787.40" stroke="#2a2a2a" stroke-width="1.6"/>
<text x="297.10" y="790.80" font-size="10.0" text-anchor="end" fill="#111" >50</text>
<line x1="298.70" y1="722.30" x2="302.10" y2="722.30" stroke="#2a2a2a" stroke-width="1.6"/>
<text x="297.10" y="725.70" font-size="10.0" text-anchor="end" fill="#111" >100</text>
<line x1="301.20" y1="852.50" x2="507.50" y2="852.50" stroke="#2a2a2a" stroke-width="1.8"/>
<line x1="302.10" y1="852.50" x2="302.10" y2="856.10" stroke="#2a2a2a" stroke-width="1.6"/>
<text x="302.10" y="868.10" font-size="10.0" text-anchor="middle" fill="#111" >0</text>
<line x1="399.55" y1="852.50" x2="399.55" y2="856.10" stroke="#2a2a2a" stroke-width="1.6"/>
<text x="399.55" y="868.10" font-size="10.0" text-anchor="middle" fill="#111" >50</text>
<line x1="497.00" y1="852.50" x2="497.00" y2="856.10" stroke="#2a2a2a" stroke-width="1.6"/>
<text x="497.00" y="868.10" font-size="10.0" text-anchor="middle" fill="#111" >100</text>
<text x="404.70" y="699.40" font-size="13.1" text-anchor="middle" fill="#111" >ROC curve: ETP PPP NO CTI</text>
<text x="264.50" y="700.20" font-size="17.8" text-anchor="start" fill="#111" >H</text>
<text x="273.90" y="783.90" font-size="10.9" text-anchor="middle" fill="#111" transform="rotate(-90 273.90 783.90)">Sensitivity</text>
<text x="405.70" y="882.40" font-size="11.1" text-anchor="middle" fill="#111" >100% - Specificity%</text>
<text x="464.10" y="820.20" font-size="11.2" text-anchor="middle" fill="#111" >AUC = 0.7971</text>
<text x="427.30" y="718.30" font-size="6.8" text-anchor="middle" fill="#111" >*</text>
<text x="430.80" y="721.20" font-size="11.2" text-anchor="start" fill="#111" >18%</text>
</svg>
</body></html>
